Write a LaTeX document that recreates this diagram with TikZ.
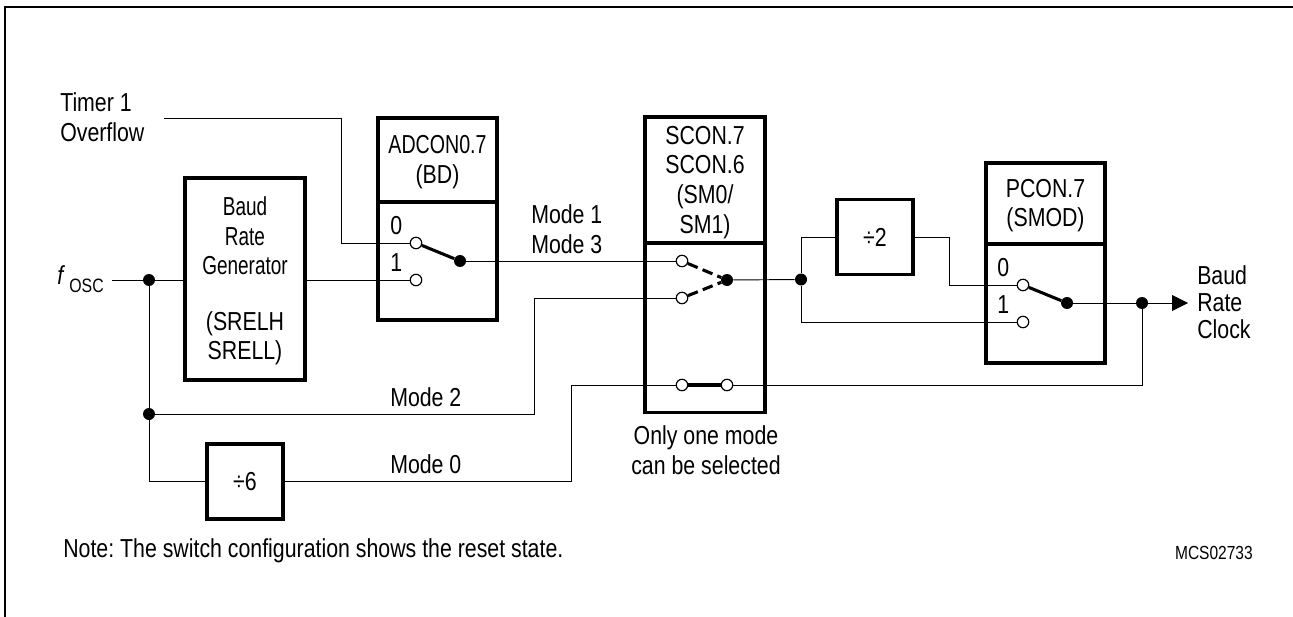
\documentclass[tikz,border=0pt]{standalone}
\usepackage{fontspec}
\setmainfont[FakeStretch=0.82]{Liberation Sans}
\frenchspacing
\usetikzlibrary{arrows.meta}
\newcommand{\firstline}{\rule{0pt}{17pt}}
\newcommand{\narrow}[2]{\scalebox{#1}[1]{#2}}
\tikzset{
  x=0.75pt,y=-0.75pt,
  every node/.style={font=\fontsize{19.5}{22.2}\selectfont,inner sep=0pt},
  wire/.style={line width=0.7pt,black},
  thickbox/.style={draw,line width=2.4pt,align=center,fill=none},
  lab/.style={align=left,anchor=west},
  open/.style={circle,draw,line width=0.9pt,fill=white,minimum size=8.6pt},
  dot/.style={circle,fill=black,minimum size=9pt},
  swarm/.style={line width=2.3pt},
  dasharm/.style={line width=2.3pt,dash pattern=on 8pt off 4pt},
}
\begin{document}
\begin{tikzpicture}
\useasboundingbox (0,0) rectangle (1293,617);
% frame
\coordinate (fa) at (5,617); \coordinate (fb) at (5,7); \coordinate (fc) at (1293,7);
\draw[line width=1.6pt] (fa) -- (fb) -- (fc);
% boxes
\node[thickbox,minimum width=90pt,minimum height=151.5pt] (brg) at (245,279) {\firstline\narrow{0.89}{Baud}\\\narrow{0.89}{Rate}\\\narrow{0.89}{Generator}\\[19.5pt](SRELH\\SRELL)};
\node[thickbox,minimum width=89.25pt,minimum height=63pt] (adh) at (437.5,160) {\firstline\narrow{0.92}{ADCON0.7}\\(BD)};
\node[thickbox,minimum width=89.25pt,minimum height=88.5pt] (adl) at (437.5,261) {};
\node[thickbox,minimum width=90pt,minimum height=94.5pt] (sch) at (705,180) {\firstline SCON.7\\SCON.6\\(SM0/\\SM1)};
\node[thickbox,minimum width=90pt,minimum height=127pt] (scl) at (705,327.5) {};
\node[thickbox,minimum width=89.25pt,minimum height=60.75pt] (pch) at (1045.5,203.5) {\firstline PCON.7\\(SMOD)};
\node[thickbox,minimum width=89.25pt,minimum height=89.25pt] (pcl) at (1045.5,303.5) {};
\node[thickbox,minimum width=57pt,minimum height=56.25pt] (dtwo) at (875,237) {÷2};
\node[thickbox,minimum width=57pt,minimum height=56.25pt] (dsix) at (245,481.5) {÷6};
% junctions and contacts
\node[dot] (j1) at (149,280) {};
\node[dot] (j2) at (149,414) {};
\node[open] (a0) at (416,243) {};
\node[open] (a1) at (416,280) {};
\node[dot] (ad) at (460,261) {};
\node[open] (s1) at (682,261) {};
\node[open] (s2) at (682,298) {};
\node[dot] (sd) at (727,280) {};
\node[open] (s3) at (682,385) {};
\node[open] (s4) at (727,385) {};
\node[dot] (j3) at (801,279.5) {};
\node[open] (p0) at (1023,285) {};
\node[open] (p1) at (1023,322) {};
\node[dot] (pd) at (1067,303) {};
\node[dot] (j4) at (1142,303) {};
% free ends and bends
\coordinate (tstart) at (164,118); \coordinate (tb1) at (341,118); \coordinate (tb2) at (341,243);
\coordinate (fstart) at (112,280);
\coordinate (m2) at (534,414); \coordinate (m2b) at (534,298);
\coordinate (m0) at (571,481.5); \coordinate (m0b) at (571,385);
\coordinate (d6) at (149,481.5);
\coordinate (out) at (1188,303);
\coordinate (e0) at (1142,385);
\coordinate (d2a) at (801,237); \coordinate (d2b) at (949,237); \coordinate (d2c) at (949,285);
\coordinate (d2d) at (801,322);
\draw[wire] (tstart) -- (tb1) -- (tb2) -- (a0);
\draw[wire] (fstart) -- (j1) -- (brg.west |- j1);
\draw[wire] (brg.east |- a1) -- (a1);
\draw[wire] (j1) -- (j2) -- (d6) -- (dsix.west |- d6);
\draw[wire] (j2) -- (m2) -- (m2b) -- (s2);
\draw[wire] (ad) -- (s1);
\draw[wire] (dsix.east) -- (m0) -- (m0b) -- (s3);
\draw[wire] (s4) -- (e0) -- (j4);
\draw[wire] (sd) -- (j3);
\draw[wire] (j3) -- (d2a) -- (dtwo.west |- d2a);
\draw[wire] (dtwo.east |- d2b) -- (d2b) -- (d2c) -- (p0);
\draw[wire] (j3) -- (d2d) -- (p1);
\draw[wire] (pd) -- (j4);
\draw[wire,-{Triangle[length=12pt,width=12pt]}] (j4) -- (out);
\draw[swarm] (a0) -- (ad);
\draw[swarm] (p0) -- (pd);
\draw[swarm] (s3) -- (s4);
\draw[dasharm] (s1) -- (sd);
\draw[dasharm] (s2) -- (sd);
% labels
\node[lab] (t1) at (60,117) {Timer 1\\Overflow};
\node[lab] (fo) at (57,279) {\textit{f}\,\raisebox{-6pt}{\fontsize{14.5}{15}\selectfont OSC}};
\node[lab] (a0l) at (390,226) {0};
\node[lab] (a1l) at (390,263) {1};
\node[lab] (mm) at (531,229.5) {Mode 1\\Mode 3};
\node[lab] (m2l) at (390,397) {Mode 2};
\node[lab] (m0l) at (390,464) {Mode 0};
\node[align=center] (only) at (706,450.5) {Only one mode\\can be selected};
\node[lab] (p0l) at (997,268) {0};
\node[lab] (p1l) at (997,305) {1};
\node[lab] (brc) at (1197,302) {Baud\\[-2pt]Rate\\[-2pt]Clock};
\node[lab] (note) at (63,551) {Note: The switch configuration shows the reset state.};
\node[anchor=east,font=\fontsize{14.2}{16}\selectfont] (mcs) at (1253,553) {MCS02733};
\end{tikzpicture}
\end{document}
